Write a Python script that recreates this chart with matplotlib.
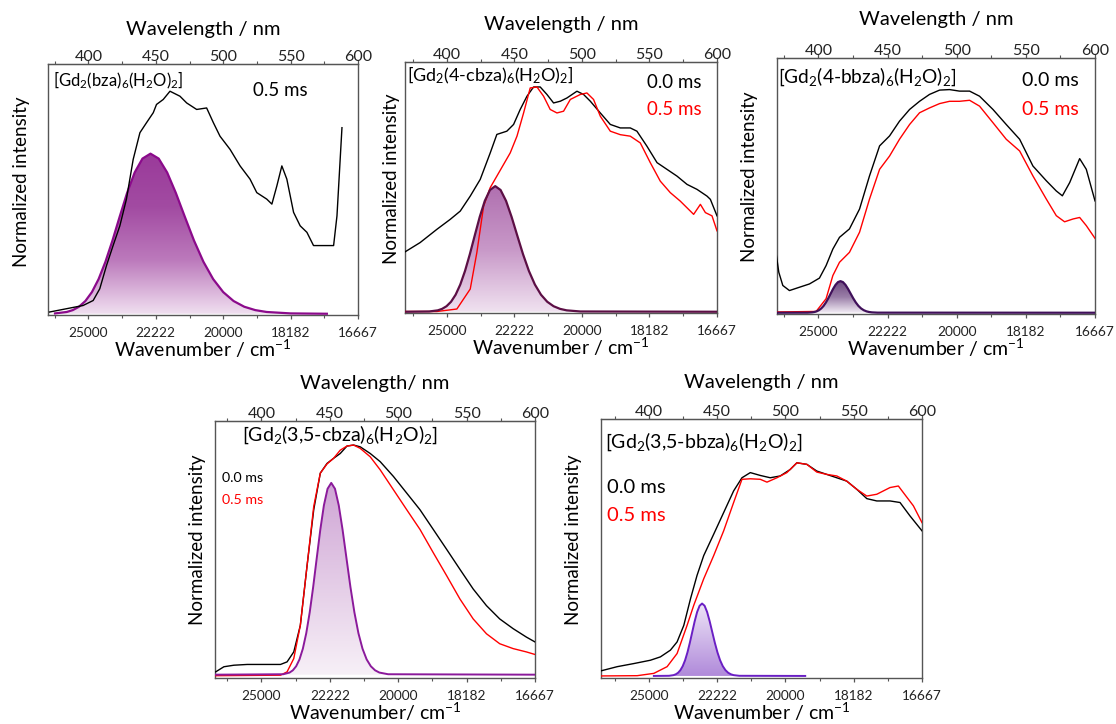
import numpy as np
import matplotlib
matplotlib.use("Agg")
import matplotlib.pyplot as plt
from matplotlib.ticker import MultipleLocator, FixedLocator
from matplotlib.colors import LinearSegmentedColormap
from matplotlib.patches import Polygon

plt.rcParams['font.family'] = ['Lato', 'DejaVu Sans']
plt.rcParams['mathtext.fontset'] = 'custom'
plt.rcParams['mathtext.rm'] = 'Lato'
plt.rcParams['mathtext.it'] = 'Lato:italic'
plt.rcParams['mathtext.bf'] = 'Lato:bold'

# ---------------- shared axis ticks ----------------
wl_ticks = [400, 450, 500, 550, 600]
wn_labels = ['25000', '22222', '20000', '18182', '16667']

# ---------------- panel 1: [Gd2(bza)6(H2O)2] ----------------
p1_wl = [371.2, 383.6, 396.0, 403.5, 408.4, 413.4, 418.3, 423.3, 428.2, 433.2, 438.2, 443.1,
         448.1, 450.5, 455.5, 460.5, 467.9, 472.9, 480.3, 487.7, 492.7, 497.6, 505.1, 512.5,
         519.9, 524.9, 532.3, 536.1, 539.8, 543.5, 547.2, 552.2, 557.1, 562.1, 567.0, 572.0,
         581.9, 584.4, 588.1]
p1_i05 = [0.007, 0.020, 0.033, 0.053, 0.100, 0.193, 0.273, 0.352, 0.459, 0.618, 0.725, 0.765,
          0.805, 0.838, 0.858, 0.891, 0.871, 0.844, 0.818, 0.824, 0.765, 0.711, 0.658, 0.592,
          0.539, 0.485, 0.459, 0.439, 0.512, 0.592, 0.539, 0.406, 0.352, 0.326, 0.273, 0.273,
          0.273, 0.392, 0.745]
p1_g_wl = [375.17, 383.88, 388.39, 393.00, 397.73, 402.58, 407.54, 412.62, 417.84, 423.19,
           428.68, 434.31, 440.09, 446.03, 452.13, 458.40, 464.85, 471.48, 478.30, 485.32,
           492.55, 500.00, 507.68, 515.60, 523.76, 532.20, 549.90, 576.9]
p1_g_int = [0.0014, 0.0071, 0.0146, 0.0281, 0.0510, 0.0867, 0.1387, 0.2081, 0.2934, 0.3888,
            0.4838, 0.5657, 0.6213, 0.6410, 0.6213, 0.5657, 0.4838, 0.3888, 0.2934, 0.2081,
            0.1387, 0.0867, 0.0510, 0.0281, 0.0146, 0.0071, 0.0014, 0.0]

# ---------------- panel 2: [Gd2(4-cbza)6(H2O)2] ----------------
p2_wl0 = [369.1, 380.2, 392.6, 402.5, 409.9, 417.3, 424.7, 432.1, 437.0, 444.4, 449.4, 454.3,
          459.3, 464.2, 469.1, 474.1, 479.0, 484.0, 488.9, 496.3, 501.2, 506.2, 513.6, 521.0,
          528.4, 535.8, 540.7, 548.1, 555.6, 563.0, 570.4, 577.8, 585.2, 592.6, 595.1, 600.0]
p2_i00 = [0.240, 0.277, 0.330, 0.370, 0.403, 0.463, 0.530, 0.636, 0.710, 0.723, 0.750, 0.810,
          0.863, 0.900, 0.900, 0.870, 0.836, 0.843, 0.856, 0.883, 0.870, 0.843, 0.796, 0.750,
          0.736, 0.736, 0.723, 0.663, 0.597, 0.570, 0.543, 0.510, 0.490, 0.463, 0.450, 0.384]
p2_wl5 = [369.1, 392.6, 407.4, 417.3, 422.2, 427.2, 432.1, 437.0, 442.0, 446.9, 451.9, 456.8,
          461.7, 466.7, 471.6, 476.5, 481.5, 486.4, 491.4, 498.8, 503.7, 508.6, 513.6, 521.0,
          528.4, 535.8, 543.2, 550.6, 558.0, 565.4, 572.8, 582.7, 587.7, 591.4, 596.3, 600.0]
p2_i05 = [0.001, 0.001, 0.011, 0.091, 0.237, 0.423, 0.497, 0.543, 0.590, 0.636, 0.703, 0.796,
          0.896, 0.900, 0.863, 0.810, 0.796, 0.803, 0.850, 0.870, 0.876, 0.850, 0.783, 0.723,
          0.709, 0.703, 0.676, 0.597, 0.523, 0.477, 0.443, 0.390, 0.430, 0.397, 0.384, 0.324]
p2_g_wl = [370.0, 386.94, 393.24, 396.46, 399.74, 403.08, 406.47, 409.92, 413.43, 417.00,
           420.63, 424.32, 428.08, 431.91, 435.81, 439.77, 443.81, 447.93, 452.12, 456.39,
           460.74, 465.18, 469.70, 474.31, 479.02, 483.82, 488.71, 498.80, 600.0]
p2_g_int = [0.0, 0.0011, 0.0056, 0.0115, 0.0221, 0.0400, 0.0681, 0.1088, 0.1633, 0.2303,
            0.3051, 0.3797, 0.4439, 0.4875, 0.5030, 0.4875, 0.4439, 0.3797, 0.3051, 0.2303,
            0.1633, 0.1088, 0.0681, 0.0400, 0.0221, 0.0115, 0.0056, 0.0011, 0.0]

# ---------------- panel 3: [Gd2(4-bbza)6(H2O)2] ----------------
p3_wl0 = [369.4, 371.3, 374.2, 379.0, 386.2, 393.5, 400.7, 405.5, 410.4, 415.2, 422.4, 429.7,
          436.9, 444.2, 451.4, 458.6, 465.9, 473.1, 480.3, 487.6, 494.8, 502.0, 509.3, 516.5,
          526.2, 535.8, 545.5, 555.1, 564.8, 572.0, 576.4, 581.7, 588.9, 593.7, 600.0]
p3_i00 = [0.231, 0.159, 0.107, 0.087, 0.100, 0.113, 0.136, 0.185, 0.250, 0.296, 0.329, 0.407,
          0.537, 0.655, 0.694, 0.752, 0.798, 0.830, 0.857, 0.874, 0.876, 0.870, 0.870, 0.850,
          0.798, 0.739, 0.681, 0.576, 0.518, 0.478, 0.459, 0.511, 0.605, 0.563, 0.439]
p3_wl5 = [369.4, 398.3, 405.5, 410.4, 415.2, 422.4, 429.7, 436.9, 444.2, 451.4, 458.6, 465.9,
          473.1, 480.3, 487.6, 494.8, 502.0, 509.3, 516.5, 526.2, 535.8, 545.5, 555.1, 564.8,
          572.0, 578.0, 584.1, 588.9, 593.7, 600.0]
p3_i05 = [0.003, 0.005, 0.055, 0.146, 0.198, 0.237, 0.316, 0.446, 0.563, 0.615, 0.681, 0.739,
          0.785, 0.804, 0.821, 0.830, 0.830, 0.834, 0.811, 0.746, 0.681, 0.635, 0.537, 0.446,
          0.381, 0.357, 0.368, 0.374, 0.342, 0.292]
p3_g_wl = [370.0, 392.16, 395.38, 397.01, 398.66, 400.32, 401.99, 403.68, 405.38, 407.10,
           408.83, 410.58, 412.34, 414.11, 415.90, 417.71, 419.53, 421.37, 423.23, 425.10,
           426.99, 428.89, 430.81, 432.75, 434.71, 436.68, 438.68, 442.71, 600.0]
p3_g_int = [0.0, 0.0003, 0.0014, 0.0028, 0.0054, 0.0099, 0.0168, 0.0268, 0.0403, 0.0568,
            0.0752, 0.0936, 0.1094, 0.1202, 0.1240, 0.1202, 0.1094, 0.0936, 0.0752, 0.0568,
            0.0403, 0.0268, 0.0168, 0.0099, 0.0054, 0.0028, 0.0014, 0.0003, 0.0]

# ---------------- panel 4: [Gd2(3,5-cbza)6(H2O)2] ----------------
p4_wl0 = [366.5, 372.5, 379.8, 389.6, 401.7, 413.9, 418.7, 423.6, 428.4, 433.3, 438.2, 443.0,
          447.9, 452.7, 457.6, 462.5, 467.3, 472.2, 479.5, 486.8, 496.5, 506.2, 515.9, 525.6,
          535.4, 545.1, 554.8, 564.5, 574.2, 584.0, 593.7, 600.0]
p4_i00 = [0.019, 0.039, 0.045, 0.048, 0.048, 0.048, 0.058, 0.097, 0.201, 0.433, 0.653, 0.796,
          0.834, 0.854, 0.873, 0.902, 0.906, 0.899, 0.873, 0.841, 0.783, 0.718, 0.653, 0.576,
          0.498, 0.420, 0.343, 0.278, 0.226, 0.188, 0.155, 0.136]
p4_wl5 = [366.5, 413.9, 418.7, 423.6, 428.4, 433.3, 438.2, 443.0, 447.9, 452.7, 457.6, 462.5,
          467.3, 472.2, 479.5, 486.8, 496.5, 506.2, 515.9, 525.6, 535.4, 545.1, 554.8, 564.5,
          574.2, 584.0, 593.7, 600.0]
p4_i05 = [0.004, 0.006, 0.019, 0.071, 0.201, 0.433, 0.666, 0.796, 0.832, 0.854, 0.886, 0.902,
          0.906, 0.893, 0.860, 0.809, 0.731, 0.653, 0.576, 0.485, 0.395, 0.304, 0.226, 0.168,
          0.129, 0.110, 0.097, 0.087]
p4_g_wl = [366.0, 415.88, 420.56, 422.94, 425.34, 427.78, 430.24, 432.73, 435.25, 437.80,
           440.37, 442.98, 445.62, 448.30, 451.00, 453.74, 456.51, 459.31, 462.15, 465.02,
           467.94, 470.88, 473.87, 476.89, 479.95, 483.05, 486.19, 492.60, 600.0]
p4_g_int = [0.0, 0.0017, 0.0083, 0.0171, 0.0329, 0.0597, 0.1015, 0.1622, 0.2435, 0.3434,
            0.4549, 0.5661, 0.6619, 0.7269, 0.7500, 0.7269, 0.6619, 0.5661, 0.4549, 0.3434,
            0.2435, 0.1622, 0.1015, 0.0597, 0.0329, 0.0171, 0.0083, 0.0017, 0.0]

# ---------------- panel 5: [Gd2(3,5-bbza)6(H2O)2] ----------------
p5_wl0 = [365.2, 376.9, 389.0, 401.2, 408.5, 415.8, 420.7, 425.6, 430.5, 435.3, 440.2, 447.5,
          454.8, 462.1, 468.2, 474.3, 481.6, 488.9, 496.2, 503.5, 508.4, 515.7, 523.0, 530.3,
          537.6, 544.9, 552.3, 559.6, 566.9, 576.6, 583.9, 591.2, 600.0]
p5_i00 = [0.023, 0.039, 0.051, 0.064, 0.077, 0.103, 0.135, 0.199, 0.302, 0.393, 0.470, 0.553,
          0.637, 0.721, 0.772, 0.792, 0.781, 0.772, 0.779, 0.804, 0.830, 0.824, 0.798, 0.785,
          0.772, 0.759, 0.727, 0.691, 0.682, 0.682, 0.676, 0.624, 0.566]
p5_wl5 = [365.2, 391.5, 403.7, 413.4, 420.7, 428.0, 432.9, 440.2, 447.5, 454.8, 462.1, 468.2,
          474.3, 481.6, 486.5, 493.8, 501.1, 508.4, 515.7, 523.0, 530.3, 537.6, 544.9, 552.3,
          559.6, 566.9, 576.6, 582.7, 586.4, 593.7, 600.0]
p5_i05 = [0.003, 0.004, 0.013, 0.039, 0.090, 0.199, 0.277, 0.380, 0.470, 0.566, 0.676, 0.766,
          0.768, 0.766, 0.755, 0.772, 0.792, 0.830, 0.824, 0.794, 0.785, 0.779, 0.759, 0.727,
          0.701, 0.708, 0.734, 0.740, 0.714, 0.663, 0.598]
p5_g_wl = [403.7, 414.78, 418.08, 419.74, 421.42, 423.12, 424.82, 426.55, 428.28, 430.03,
           431.80, 433.58, 435.37, 437.18, 439.00, 440.84, 442.69, 444.56, 446.45, 448.35,
           450.27, 452.20, 454.15, 456.12, 458.11, 460.11, 462.13, 466.22, 514.5]
p5_g_int = [0.0, 0.0006, 0.0031, 0.0064, 0.0123, 0.0224, 0.0380, 0.0608, 0.0912, 0.1286,
            0.1704, 0.2121, 0.2480, 0.2723, 0.2810, 0.2723, 0.2480, 0.2121, 0.1704, 0.1286,
            0.0912, 0.0608, 0.0380, 0.0224, 0.0123, 0.0064, 0.0031, 0.0006, 0.0]

W, H = 1116, 724
fig = plt.figure(figsize=(W / 100, H / 100), dpi=100)


def px_axes(l, r, t, b):
    ax = fig.add_axes([l / W, 1 - b / H, (r - l) / W, (b - t) / H])
    ax._hpx = b - t
    return ax


def grad_fill(ax, x, y, base, colors, zorder=1):
    x = np.asarray(x)
    y = np.asarray(y) + base
    verts = list(zip(x, y)) + [(x[-1], base), (x[0], base)]
    poly = Polygon(verts, closed=True, facecolor='none', edgecolor='none',
                   transform=ax.transData)
    ax.add_patch(poly)
    cmap = LinearSegmentedColormap.from_list('g', colors)
    grad = np.linspace(0, 1, 256).reshape(-1, 1)
    im = ax.imshow(grad, cmap=cmap, aspect='auto', origin='lower',
                   extent=[x.min(), x.max(), base, y.max()], zorder=zorder,
                   interpolation='bilinear')
    im.set_clip_path(poly)


def style(ax, xlim, top_label, bot_label, ylab_xy, top_off=37.0):
    hpx = ax._hpx
    ax.set_xlim(*xlim)
    ax.set_ylim(-0.005, 1.0)
    ax.set_yticks([])
    ax.xaxis.set_major_locator(FixedLocator(wl_ticks))
    ax.set_xticklabels(wn_labels)
    ax.xaxis.set_minor_locator(MultipleLocator(25))
    for s in ax.spines.values():
        s.set_color('#555555')
        s.set_linewidth(1.0)
    ax.tick_params(axis='x', which='major', direction='out', length=3, width=0.9,
                   color='#555555', labelsize=9.8, pad=5.5, labelcolor='#222222')
    ax.tick_params(axis='x', which='minor', direction='out', length=2, width=0.8,
                   color='#555555')
    ax.set_xlabel(bot_label, fontsize=14)
    ax.xaxis.set_label_coords(0.5, -34.0 / hpx)
    ax.xaxis.label.set_va('center')
    sec = ax.secondary_xaxis('top')
    sec.xaxis.set_major_locator(FixedLocator(wl_ticks))
    sec.set_xticklabels([str(w) for w in wl_ticks])
    sec.xaxis.set_minor_locator(MultipleLocator(25))
    sec.spines['top'].set_color('#555555')
    sec.tick_params(axis='x', which='major', direction='out', length=3, width=0.9,
                    color='#555555', labelsize=11.5, pad=-3, labelcolor='#222222')
    sec.tick_params(axis='x', which='minor', direction='out', length=2, width=0.8,
                    color='#555555')
    ax.text(0.5, 1 + top_off / hpx, top_label, transform=ax.transAxes,
            ha='center', va='center', fontsize=14.5)
    fig.text(ylab_xy[0] / W, 1 - ylab_xy[1] / H, 'Normalized intensity', rotation=90,
             ha='center', va='center', fontsize=13.5)


bot = 'Wavenumber / cm$^{-1}$'
bot_ns = 'Wavenumber/ cm$^{-1}$'

# ---- panel 1 ----
ax1 = px_axes(48, 358, 64, 315)
grad_fill(ax1, p1_g_wl, p1_g_int, 0.0, ['#F0DFF0', '#BC7ABC', '#A24BA2', '#9A3A9A'])
ax1.plot(p1_g_wl, p1_g_int, color='#8B0A8B', lw=1.6, zorder=3)
ax1.plot(p1_wl, p1_i05, color='black', lw=1.0, zorder=4)
style(ax1, (370, 600), 'Wavelength / nm', bot, (22, 182), top_off=35.0)
ax1.text(0.016, 0.936, '[Gd$_2$(bza)$_6$(H$_2$O)$_2$]', transform=ax1.transAxes,
         fontsize=12, va='center', ha='left')
ax1.text(0.661, 0.896, '0.5 ms', transform=ax1.transAxes, fontsize=13.5,
         va='center', ha='left')

# ---- panel 2 ----
ax2 = px_axes(405, 717, 62, 313)
grad_fill(ax2, p2_g_wl, p2_g_int, 0.0, ['#F0E2F0', '#C898C8', '#B070B0'])
ax2.plot(p2_wl0, p2_i00, color='black', lw=1.0, zorder=3)
ax2.plot(p2_wl5, p2_i05, color='red', lw=1.0, zorder=4)
ax2.plot(p2_g_wl, p2_g_int, color='#5C0F45', lw=1.6, zorder=5)
style(ax2, (369, 600), 'Wavelength / nm', bot, (392, 179), top_off=37.5)
ax2.text(0.006, 0.948, '[Gd$_2$(4-cbza)$_6$(H$_2$O)$_2$]', transform=ax2.transAxes,
         fontsize=13, va='center', ha='left')
ax2.text(0.776, 0.920, '0.0 ms', transform=ax2.transAxes, fontsize=13.5,
         va='center', ha='left', color='black')
ax2.text(0.776, 0.809, '0.5 ms', transform=ax2.transAxes, fontsize=13.5,
         va='center', ha='left', color='red')

# ---- panel 3 ----
ax3 = px_axes(777, 1095, 58, 314)
grad_fill(ax3, p3_g_wl, p3_g_int, 0.0, ['#F3EDF5', '#9A7EA8', '#6E4A80'])
ax3.plot(p3_wl0, p3_i00, color='black', lw=1.0, zorder=3)
ax3.plot(p3_wl5, p3_i05, color='red', lw=1.0, zorder=4)
ax3.plot(p3_g_wl, p3_g_int, color='#40105A', lw=1.6, zorder=5)
style(ax3, (370, 600), 'Wavelength / nm', bot, (750, 177), top_off=38.0)
ax3.text(0.003, 0.926, '[Gd$_2$(4-bbza)$_6$(H$_2$O)$_2$]', transform=ax3.transAxes,
         fontsize=13.8, va='center', ha='left')
ax3.text(0.770, 0.914, '0.0 ms', transform=ax3.transAxes, fontsize=14,
         va='center', ha='left', color='black')
ax3.text(0.770, 0.797, '0.5 ms', transform=ax3.transAxes, fontsize=14,
         va='center', ha='left', color='red')

# ---- panel 4 ----
ax4 = px_axes(215, 535, 421, 678)
grad_fill(ax4, p4_g_wl, p4_g_int, 0.008, ['#F7F0F7', '#CFA5D5'])
ax4.plot(p4_wl0, p4_i00, color='black', lw=1.0, zorder=3)
ax4.plot(p4_wl5, p4_i05, color='red', lw=1.0, zorder=4)
ax4.plot(p4_g_wl, np.asarray(p4_g_int) + 0.008, color='#8B1A9B', lw=1.4, zorder=5)
style(ax4, (366, 600), 'Wavelength/ nm', bot_ns, (197, 540), top_off=37.5)
ax4.text(0.084, 0.946, '[Gd$_2$(3,5-cbza)$_6$(H$_2$O)$_2$]', transform=ax4.transAxes,
         fontsize=14, va='center', ha='left')
ax4.text(0.022, 0.778, '0.0 ms', transform=ax4.transAxes, fontsize=10.3,
         va='center', ha='left', color='black')
ax4.text(0.022, 0.693, '0.5 ms', transform=ax4.transAxes, fontsize=10.3,
         va='center', ha='left', color='red')

# ---- panel 5 ----
ax5 = px_axes(601, 922, 419, 678)
grad_fill(ax5, p5_g_wl, p5_g_int, 0.003, ['#B08ADA', '#EEE5F7'])
ax5.plot(p5_wl0, p5_i00, color='black', lw=1.0, zorder=3)
ax5.plot(p5_wl5, p5_i05, color='red', lw=1.0, zorder=4)
ax5.plot(p5_g_wl, np.asarray(p5_g_int) + 0.003, color='#6A1FC4', lw=1.4, zorder=5)
style(ax5, (365, 600), 'Wavelength / nm', bot, (574, 540), top_off=36.5)
ax5.text(0.012, 0.911, '[Gd$_2$(3,5-bbza)$_6$(H$_2$O)$_2$]', transform=ax5.transAxes,
         fontsize=14, va='center', ha='left')
ax5.text(0.019, 0.737, '0.0 ms', transform=ax5.transAxes, fontsize=14.5,
         va='center', ha='left', color='black')
ax5.text(0.019, 0.629, '0.5 ms', transform=ax5.transAxes, fontsize=14.5,
         va='center', ha='left', color='red')

fig.savefig('out.png', dpi=100)
